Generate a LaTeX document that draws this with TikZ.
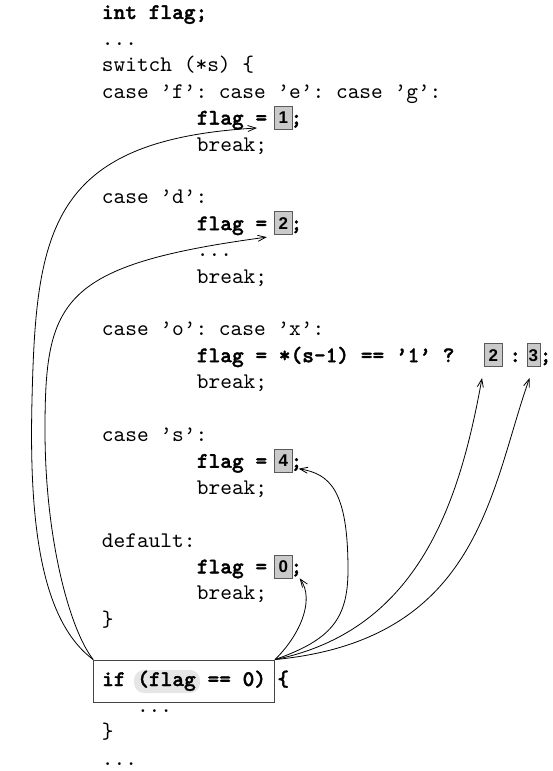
\documentclass[tikz,border=0pt]{standalone}
\usepackage{fontspec}
\setmonofont{lmmono10-regular}[Extension=.otf, BoldFont=lmmonolt10-bold,
  BoldFeatures={FakeBold=1.6}]
\newfontfamily\digitfont{Liberation Sans}
\usetikzlibrary{arrows.meta}

\definecolor{boxfill}{HTML}{CACACA}
\definecolor{boxedge}{HTML}{5A5A5A}
\definecolor{hilite}{HTML}{E6E6E6}
\definecolor{frameedge}{HTML}{444444}

% column of the code, indented column, width of one character
\newcommand\colA{101.7}
\newcommand\colB{196.7}
\newcommand\chw{11.7}
% baseline of line n of the switch block
\newcommand\lineY[1]{{19+26.4*#1}}

\begin{document}
\begin{tikzpicture}[x=1pt,y=-1pt,
  code/.style={anchor=base west, inner sep=0pt,
    font=\ttfamily\fontsize{22.3}{26}\selectfont},
  boldcode/.style={code, font=\ttfamily\bfseries\fontsize{22.3}{26}\selectfont},
  valbox/.style={draw=boxedge, fill=boxfill, line width=0.8pt,
    minimum width=18pt, minimum height=23pt, inner sep=0pt,
    font=\digitfont\bfseries\fontsize{17}{17}\selectfont},
  link/.style={line width=0.8pt, -{Straight Barb[length=8pt,width=6pt]}}
]
\useasboundingbox (0,0) rectangle (552,771);

% switch statement
\node[boldcode] (l0)  at (\colA,\lineY{0})  {int flag;};
\node[code]     (l1)  at (\colA,\lineY{1})  {...};
\node[code]     (l2)  at (\colA,\lineY{2})  {switch (*s) \{};
\node[code]     (l3)  at (\colA,\lineY{3})  {case ’f’: case ’e’: case ’g’:};
\node[boldcode] (l4)  at (\colB,\lineY{4})  {flag =~~;};
\node[code]     (l5)  at (\colB,\lineY{5})  {break;};
\node[code]     (l7)  at (\colA,\lineY{7})  {case ’d’:};
\node[boldcode] (l8)  at (\colB,\lineY{8})  {flag =~~;};
\node[code]     (l9)  at (\colB,\lineY{9})  {...};
\node[code]     (l10) at (\colB,\lineY{10}) {break;};
\node[code]     (l12) at (\colA,\lineY{12}) {case ’o’: case ’x’:};
\node[boldcode] (l13) at (\colB,\lineY{13}) {flag = *(s-1) == ’1’ ?};
\node[boldcode] (l13c) at (509.2,\lineY{13}) {:};
\node[boldcode] (l13s) at (539.6,\lineY{13}) {;};
\node[code]     (l14) at (\colB,\lineY{14}) {break;};
\node[code]     (l16) at (\colA,\lineY{16}) {case ’s’:};
\node[boldcode] (l17) at (\colB,\lineY{17}) {flag =~~;};
\node[code]     (l18) at (\colB,\lineY{18}) {break;};
\node[code]     (l20) at (\colA,\lineY{20}) {default:};
\node[boldcode] (l21) at (\colB,\lineY{21}) {flag =~~;};
\node[code]     (l22) at (\colB,\lineY{22}) {break;};
\node[code]     (l23) at (\colA,\lineY{23}) {\}};

% boxed values
\node[valbox] (v1) at ({\colB+7.4*\chw},{19+26.4*4-7})  {1};
\node[valbox] (v2) at ({\colB+7.4*\chw},{19+26.4*8-7})  {2};
\node[valbox] (va) at (493.4,{19+26.4*13-7})            {2};
\node[valbox, minimum width=13pt] (vb) at (533.4,{19+26.4*13-7}) {3};
\node[valbox] (v4) at ({\colB+7.4*\chw},{19+26.4*17-7}) {4};
\node[valbox] (v0) at ({\colB+7.4*\chw},{19+26.4*21-7}) {0};

% the test on flag
\fill[hilite, rounded corners=10pt] (134,670) rectangle (200,693);
\node[boldcode, draw=frameedge, line width=0.9pt, inner xsep=8.5pt, inner ysep=12pt,
      text height=14pt, text depth=4pt] (ifbox) at ({\colA-8.5},686) {if (flag == 0)};
\node[boldcode] (ifbrace) at ({\colA+15*\chw},686) {\{};
\node[code] (body) at ({\colA+3*\chw},712.4) {...};
\node[code] (close) at (\colA,738.8) {\}};
\node[code] (rest) at (\colA,765.2) {...};

% arrow tips
\coordinate (t1) at ([shift={(-17,-1.5)}]v1.south west);
\coordinate (t2) at ([shift={(-7,2)}]v2.south west);
\coordinate (ta) at ([shift={(-2,11)}]va.south west);
\coordinate (tb) at ([shift={(3,11)}]vb.south west);
\coordinate (t4) at ([shift={(6,-4)}]v4.south east);
\coordinate (t0) at ([shift={(7,0)}]v0.south east);

% where each value of flag is set
\draw[link] (ifbox.north west) .. controls (40,620) and (29,520) .. (32,400)
                               .. controls (36,230) and (50,140) .. (t1);
\draw[link] (ifbox.north west) .. controls (70,630) and (45,540) .. (45,430)
                               .. controls (45,300) and (60,265) .. (t2);
\draw[link] (ifbox.north east) .. controls (300,635) and (315,600) .. (t0);
\draw[link] (ifbox.north east) .. controls (330,640) and (348,620) .. (348,570)
                               .. controls (348,490) and (330,474) .. (t4);
\draw[link] (ifbox.north east) .. controls (420,630) and (460,500) .. (ta);
\draw[link] (ifbox.north east) .. controls (480,640) and (490,490) .. (tb);
\end{tikzpicture}
\end{document}
